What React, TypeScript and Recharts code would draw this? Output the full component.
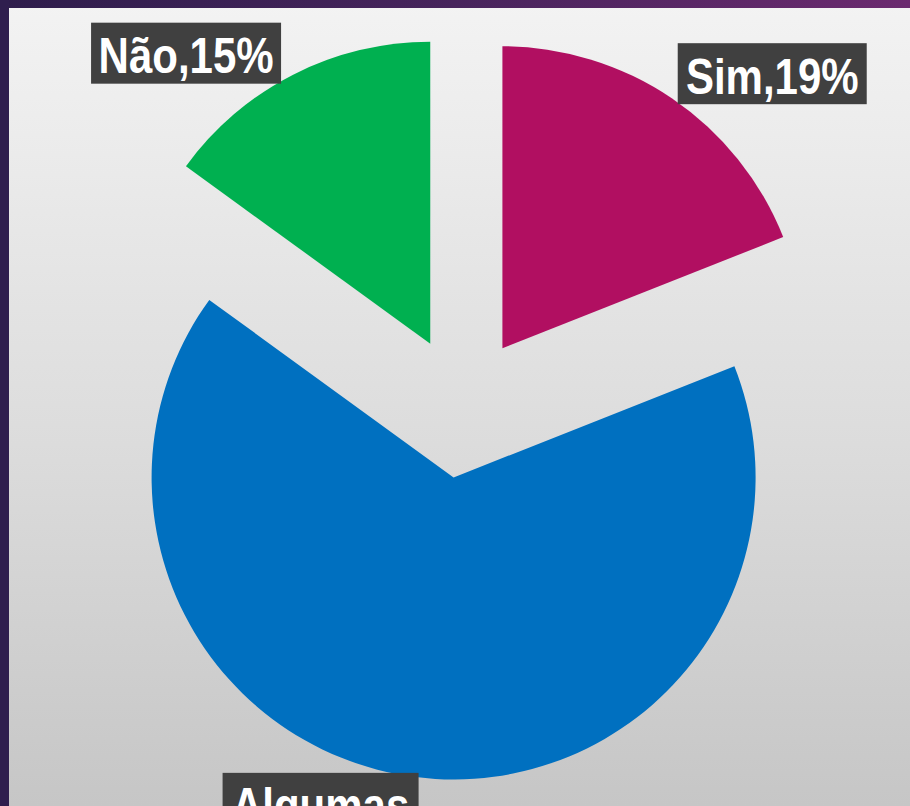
import { PieChart, Pie, Sector } from 'recharts';

// respostas (ordem no sentido horário a partir do topo)
const categories = ['Sim', 'Algumas', 'Não'];
const shares = [19, 66, 15];
const colors = ['#b10f61', '#0070c0', '#00b050'];

// posição das caixas de rótulo: desvio angular (graus, horário) e raio a partir do centro
const labelNudge = [
  { angle: 8.7, radius: 455, width: 189 },
  { angle: 12.5, radius: 421, width: 196 },
  { angle: -11, radius: 449, width: 190 },
];

const data = categories.map((name, i) => ({ name, value: shares[i] }));

const EXPLODE = 71;
const RAD = Math.PI / 180;
const FONT = '"Liberation Sans", Arial, sans-serif';

function renderSlice(props: any) {
  const { cx, cy, midAngle, outerRadius, startAngle, endAngle, index, name, value } = props;
  const ox = cx + EXPLODE * Math.cos(-midAngle * RAD);
  const oy = cy + EXPLODE * Math.sin(-midAngle * RAD);

  const nudge = labelNudge[index];
  const la = (midAngle - nudge.angle) * RAD;
  const lx = cx + nudge.radius * Math.cos(-la);
  const ly = cy + nudge.radius * Math.sin(-la);

  const oneLine = `${name},${value}%`;
  const lines = oneLine.length > 8 ? [name, `,${value}%`] : [oneLine];
  const boxH = 61 + (lines.length - 1) * 50;
  const top = ly - 30.5;

  return (
    <g key={`slice-${index}`}>
      <Sector
        cx={ox}
        cy={oy}
        innerRadius={0}
        outerRadius={outerRadius}
        startAngle={startAngle}
        endAngle={endAngle}
        fill={colors[index]}
        stroke="none"
      />
      <rect x={lx - nudge.width / 2} y={top} width={nudge.width} height={boxH} fill="#404040" />
      {lines.map((t, k) => (
        <text
          key={k}
          transform={`translate(${lx},${top + 50.5 + k * 50}) scale(1,1.17)`}
          textAnchor="middle"
          fill="#ffffff"
          fontFamily={FONT}
          fontWeight="bold"
          fontSize={42}
        >
          {t}
        </text>
      ))}
    </g>
  );
}

export default function App() {
  return (
    <div
      style={{
        position: 'fixed',
        left: 0,
        top: 0,
        width: 910,
        height: 806,
        overflow: 'hidden',
        background: 'linear-gradient(to bottom, #f3f3f3 0%, #dcdcdc 55%, #c6c6c6 100%)',
      }}
    >
      <div
        style={{
          position: 'absolute',
          left: 0,
          top: 0,
          width: 910,
          height: 8,
          background: 'linear-gradient(to right, #2e1d4c 0%, #47245c 50%, #6b2a6f 100%)',
        }}
      />
      <div style={{ position: 'absolute', left: 0, top: 0, width: 9, height: 806, background: '#2f1e4e' }} />
      <div style={{ position: 'absolute', left: 0, top: 0 }}>
        <PieChart width={910} height={806} margin={{ top: 0, right: 0, bottom: 0, left: 0 }}>
          <Pie
            data={data}
            dataKey="value"
            nameKey="name"
            cx={462.5}
            cy={407}
            outerRadius={302}
            startAngle={90}
            endAngle={-270}
            fill="transparent"
            stroke="none"
            label={renderSlice}
            labelLine={false}
            isAnimationActive={false}
          />
        </PieChart>
      </div>
    </div>
  );
}
